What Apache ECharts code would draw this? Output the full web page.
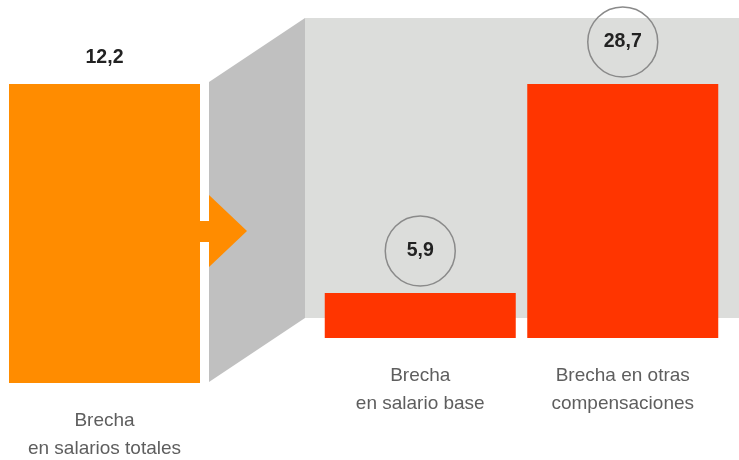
<!DOCTYPE html>
<html><head><meta charset="utf-8">
<script src="https://cdn.jsdelivr.net/npm/echarts@6/dist/echarts.min.js"></script>
<style>html,body{margin:0;padding:0;background:#fff}#c{width:739px;height:460px}</style>
</head><body><div id="c"></div>
<script>
const totalCategories = ['Brecha\nen salarios totales'];
const totalValues = [12.2];
const splitCategories = ['Brecha\nen salario base', 'Brecha en otras\ncompensaciones'];
const splitValues = [5.9, 28.7];

const ORANGE = '#FF8C00', RED = '#FF3500', DARK_GRAY = '#C0C0C0', LIGHT_GRAY = '#DCDDDB';
const FONT = 'Liberation Sans, Arial, sans-serif';
const fmt = v => String(v).replace('.', ',');

const chart = echarts.init(document.getElementById('c'), null, {renderer: 'canvas'});
const axisCommon = {axisLine: {show: false}, axisTick: {show: false}, splitLine: {show: false}};
const catLabel = {color: '#5e5e5e', fontSize: 19, fontFamily: FONT, lineHeight: 28, margin: 24, interval: 0};

chart.setOption({
  animation: false,
  grid: [
    {left: 9, width: 191, top: 84, bottom: 77, containLabel: false, outerBoundsMode: 'none'},
    {left: 319, width: 405, top: 84, bottom: 122, containLabel: false, outerBoundsMode: 'none'}
  ],
  xAxis: [
    Object.assign({type: 'category', gridIndex: 0, data: totalCategories, axisLabel: catLabel}, axisCommon),
    Object.assign({type: 'category', gridIndex: 1, data: splitCategories, axisLabel: catLabel}, axisCommon)
  ],
  yAxis: [
    Object.assign({type: 'value', gridIndex: 0, min: 0, max: 12.2, axisLabel: {show: false}}, axisCommon),
    Object.assign({type: 'value', gridIndex: 1, min: 1, max: 28.7, startValue: 1, axisLabel: {show: false}}, axisCommon)
  ],
  graphic: [
    {type: 'rect', z: 0, shape: {x: 305, y: 18, width: 434, height: 300}, style: {fill: LIGHT_GRAY}},
    {type: 'polygon', z: 0, shape: {points: [[209, 82], [305, 18], [305, 318], [209, 382]]}, style: {fill: DARK_GRAY}},
    {type: 'rect', z: 1, shape: {x: 199, y: 221, width: 11, height: 21}, style: {fill: ORANGE}},
    {type: 'polygon', z: 1, shape: {points: [[209, 195], [247, 231], [209, 267]]}, style: {fill: ORANGE}}
  ],
  series: [
    {
      type: 'bar', xAxisIndex: 0, yAxisIndex: 0, data: totalValues, barWidth: 191,
      itemStyle: {color: ORANGE},
      label: {show: true, position: 'top', distance: 16, formatter: p => fmt(p.value),
        color: '#222', fontWeight: 'bold', fontSize: 19.5, fontFamily: FONT}
    },
    {
      type: 'bar', xAxisIndex: 1, yAxisIndex: 1, data: splitValues, barWidth: 191,
      itemStyle: {color: RED},
      label: {show: true, position: 'top', distance: 42, formatter: p => fmt(p.value),
        color: '#222', fontWeight: 'bold', fontSize: 19.5, fontFamily: FONT,
        width: 70, height: 70, lineHeight: 74, align: 'center', verticalAlign: 'middle',
        borderColor: '#8a8a8a', borderWidth: 1.5, borderRadius: 36}
    }
  ]
});
</script>
</body></html>
